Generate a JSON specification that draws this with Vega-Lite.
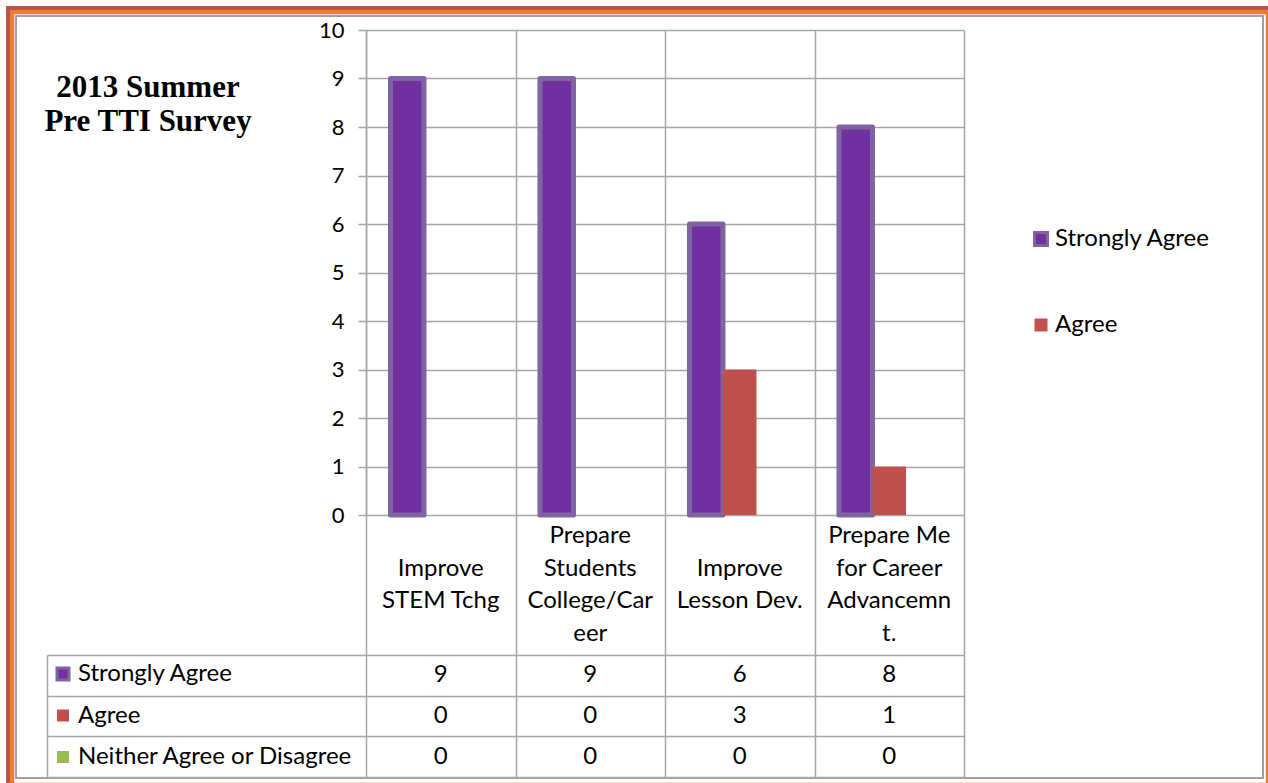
{
  "$schema": "https://vega.github.io/schema/vega-lite/v6.json",
  "background": "white",
  "padding": {"left": 8, "top": 8, "right": 0, "bottom": 0},
  "config": {
    "font": "Lato",
    "view": {"stroke": null},
    "axis": {"gridColor": "#a6a6a6", "gridWidth": 1.5, "domainColor": "#a6a6a6", "domainWidth": 1.5, "tickColor": "#a6a6a6", "tickWidth": 1.5, "labelColor": "#000000", "labelFont": "Lato"},
    "legend": {"labelFont": "Lato", "labelColor": "#000000", "strokeWidth": 4.5}
  },
  "datasets": {
    "survey": [
      {"category": "Improve STEM Tchg", "series": "Strongly Agree", "value": 9},
      {"category": "Improve STEM Tchg", "series": "Agree", "value": 0},
      {"category": "Improve STEM Tchg", "series": "Neither Agree or Disagree", "value": 0},
      {"category": "Prepare Students College/Career", "series": "Strongly Agree", "value": 9},
      {"category": "Prepare Students College/Career", "series": "Agree", "value": 0},
      {"category": "Prepare Students College/Career", "series": "Neither Agree or Disagree", "value": 0},
      {"category": "Improve Lesson Dev.", "series": "Strongly Agree", "value": 6},
      {"category": "Improve Lesson Dev.", "series": "Agree", "value": 3},
      {"category": "Improve Lesson Dev.", "series": "Neither Agree or Disagree", "value": 0},
      {"category": "Prepare Me for Career Advancemnt.", "series": "Strongly Agree", "value": 8},
      {"category": "Prepare Me for Career Advancemnt.", "series": "Agree", "value": 1},
      {"category": "Prepare Me for Career Advancemnt.", "series": "Neither Agree or Disagree", "value": 0}
    ],
    "categories": [
      {"category": "Improve STEM Tchg", "label": "\nImprove\nSTEM Tchg"},
      {"category": "Prepare Students College/Career", "label": "Prepare\nStudents\nCollege/Car\neer"},
      {"category": "Improve Lesson Dev.", "label": "\nImprove\nLesson Dev."},
      {"category": "Prepare Me for Career Advancemnt.", "label": "Prepare Me\nfor Career\nAdvancemn\nt."}
    ]
  },
  "spacing": 0,
  "bounds": "flush",
  "resolve": {
    "scale": {"color": "independent", "stroke": "independent", "fill": "independent"},
    "legend": {"color": "independent", "stroke": "independent", "fill": "independent"}
  },
  "vconcat": [
    {
      "width": 598,
      "height": 485,
      "data": {"name": "survey"},
      "title": {
        "text": ["2013 Summer", "Pre TTI Survey"],
        "font": "Liberation Serif",
        "fontSize": 31,
        "fontWeight": "bold",
        "color": "#000000",
        "anchor": "start",
        "align": "center",
        "baseline": "top",
        "lineHeight": 34,
        "orient": "top",
        "frame": "group",
        "offset": 0,
        "dx": -218,
        "dy": 119
      },
      "mark": {"type": "bar", "strokeWidth": 5, "strokeJoin": "round"},
      "encoding": {
        "x": {
          "field": "category", "type": "nominal", "sort": null,
          "scale": {"paddingInner": 0, "paddingOuter": 0},
          "axis": {"labels": false, "ticks": false, "domain": false, "title": null, "grid": true, "tickBand": "extent"}
        },
        "xOffset": {
          "field": "series", "type": "nominal", "sort": null,
          "scale": {"domain": ["Strongly Agree", "Agree", "Neither Agree or Disagree"], "paddingInner": 0, "paddingOuter": 0.73}
        },
        "y": {
          "field": "value", "type": "quantitative",
          "scale": {"domain": [0, 10]},
          "axis": {"values": [0, 1, 2, 3, 4, 5, 6, 7, 8, 9, 10], "title": null, "tickSize": 8, "labelPadding": 14, "labelFontSize": 22, "grid": true, "domain": true}
        },
        "color": {
          "field": "series", "type": "nominal",
          "scale": {"domain": ["Strongly Agree", "Agree", "Neither Agree or Disagree"], "range": ["#7030A0", "#C0504D", "#9BBB59"]},
          "legend": {"orient": "none", "legendX": 663, "legendY": 197, "title": null, "values": ["Strongly Agree", "Agree"], "symbolType": "square", "symbolSize": 169, "symbolStrokeWidth": 3, "labelFontSize": 24, "labelOffset": 2, "rowPadding": 60, "labelLimit": 400}
        },
        "stroke": {
          "field": "series", "type": "nominal",
          "scale": {"domain": ["Strongly Agree", "Agree", "Neither Agree or Disagree"], "range": ["#8064A2", "transparent", "transparent"]},
          "legend": {"orient": "none", "legendX": 663, "legendY": 197, "title": null, "values": ["Strongly Agree", "Agree"], "symbolType": "square", "symbolSize": 169, "symbolStrokeWidth": 3, "labelFontSize": 24, "labelOffset": 2, "rowPadding": 60, "labelLimit": 400}
        }
      }
    },
    {
      "width": 598,
      "height": 140,
      "layer": [
        {
          "data": {"name": "categories"},
          "mark": {"type": "text", "fontSize": 24, "lineHeight": 32.5, "lineBreak": "\n", "color": "#000000", "baseline": "middle", "dy": -48.75},
          "encoding": {
            "x": {
              "field": "category", "type": "nominal", "sort": null,
              "scale": {"paddingInner": 0, "paddingOuter": 0},
              "axis": {"labels": false, "ticks": false, "domain": false, "title": null, "grid": true, "tickBand": "extent"}
            },
            "text": {"field": "label", "type": "nominal"}
          }
        },
        {
          "data": {"name": "survey"},
          "mark": {"type": "point", "opacity": 0, "filled": true},
          "encoding": {
            "fill": {
              "field": "value", "type": "quantitative",
              "scale": {"domain": [0, 9], "range": ["transparent", "transparent"]},
              "legend": {"orient": "none", "legendX": -354, "legendY": -503, "title": null, "labelExpr": "''", "labelOpacity": 0, "labelFontSize": 1, "direction": "horizontal", "gradientLength": 1247, "gradientThickness": 762, "gradientStrokeColor": "#a0a0a0", "gradientStrokeWidth": 2, "strokeColor": "#ED7D31", "padding": 4}
            },
            "stroke": {
              "field": "value", "type": "quantitative",
              "scale": {"domain": [0, 10], "range": ["transparent", "transparent"]},
              "legend": {"orient": "none", "legendX": -358, "legendY": -507, "title": null, "labelExpr": "''", "labelOpacity": 0, "labelFontSize": 1, "direction": "horizontal", "gradientLength": 1270, "gradientThickness": 790, "gradientStrokeColor": "#C0504D", "gradientStrokeWidth": 4, "padding": 0}
            }
          }
        }
      ]
    },
    {
      "width": 598,
      "height": 122,
      "data": {"name": "survey"},
      "encoding": {
        "x": {
          "field": "category", "type": "nominal", "sort": null,
          "scale": {"paddingInner": 0, "paddingOuter": 0},
          "axis": {"labels": false, "ticks": false, "domain": false, "title": null, "grid": true, "tickBand": "extent"}
        },
        "y": {
          "field": "series", "type": "nominal", "sort": null,
          "scale": {"paddingInner": 0, "paddingOuter": 0},
          "axis": {"labels": false, "title": null, "grid": true, "tickBand": "extent", "domain": true, "orient": "left", "offset": 319, "tickSize": -319}
        }
      },
      "layer": [
        {
          "mark": {"type": "rect", "opacity": 0},
          "encoding": {
            "color": {
              "field": "series", "type": "nominal",
              "scale": {"domain": ["Strongly Agree", "Agree", "Neither Agree or Disagree"], "range": ["#7030A0", "#C0504D", "#9BBB59"]},
              "legend": {"orient": "none", "legendX": -315, "legendY": 7, "title": null, "symbolType": "square", "symbolSize": 144, "symbolStrokeWidth": 3, "symbolOpacity": 1, "labelFontSize": 24, "labelOffset": 3, "rowPadding": 17.5, "labelLimit": 400}
            },
            "stroke": {
              "field": "series", "type": "nominal",
              "scale": {"domain": ["Strongly Agree", "Agree", "Neither Agree or Disagree"], "range": ["#8064A2", "transparent", "transparent"]},
              "legend": {"orient": "none", "legendX": -315, "legendY": 7, "title": null, "symbolType": "square", "symbolSize": 144, "symbolStrokeWidth": 3, "symbolOpacity": 1, "labelFontSize": 24, "labelOffset": 3, "rowPadding": 17.5, "labelLimit": 400}
            }
          }
        },
        {
          "mark": {"type": "text", "fontSize": 24, "color": "#000000"},
          "encoding": {"text": {"field": "value", "type": "quantitative"}}
        }
      ]
    }
  ]
}
